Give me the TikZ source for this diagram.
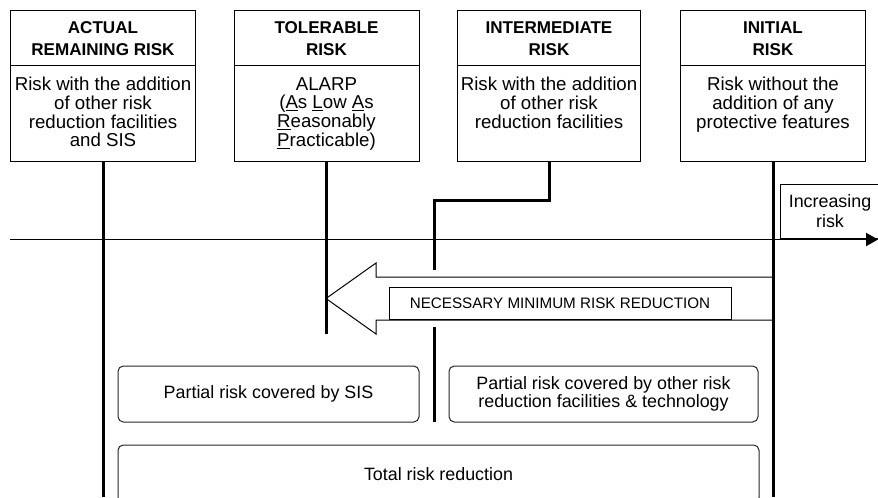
\documentclass[tikz,border=0pt]{standalone}
\usepackage{fontspec}
\setmainfont{Liberation Sans}
\usetikzlibrary{arrows.meta, positioning, shadows}

\tikzset{
  riskbox/.style={draw, line width=0.75pt, minimum width=138.75pt,
                  minimum height=113.25pt, anchor=north, inner sep=0pt},
  headtext/.style={align=center, inner sep=0pt,
                   font=\fontsize{12.8}{16.5}\selectfont\bfseries},
  bodytext/.style={align=center, anchor=north, inner sep=0pt,
                   font=\fontsize{14}{14}\selectfont},
  riskline/.style={line width=2.25pt},
  partbox/.style={draw=black!85, line width=0.75pt, rounded corners=4pt,
                  align=center, inner sep=0pt, minimum height=42pt,
                  font=\fontsize{13.4}{14}\selectfont},
}

\begin{document}
\begin{tikzpicture}[x=0.75pt, y=-0.75pt, >=Stealth]
  \useasboundingbox (0,0) rectangle (878,497);
  \clip (0,0) rectangle (878,497);

  % risk axis
  \coordinate (axisStart) at (10,239.5);
  \coordinate (axisEnd) at (878,239.5);
  \draw[line width=0.75pt, -{Triangle[length=9pt, width=10pt]}] (axisStart) -- (axisEnd);

  % the four risk levels
  \node[riskbox] (actual) at (103,10) {};
  \node[riskbox] (tol) at (326.5,10) {};
  \node[riskbox, minimum width=137.25pt] (inter) at (549,10) {};
  \node[riskbox] (init) at (773,10) {};

  \foreach \b in {actual, tol, inter, init}
    \draw[line width=0.75pt] ([yshift=-41.25pt]\b.north west) -- ([yshift=-41.25pt]\b.north east);

  \node[headtext] (actualHead) at (103,38.5) {ACTUAL\\REMAINING RISK};
  \node[headtext] (tolHead) at (326.5,38.5) {TOLERABLE\\RISK};
  \node[headtext] (interHead) at (549,38.5) {INTERMEDIATE\\RISK};
  \node[headtext] (initHead) at (773,38.5) {INITIAL\\RISK};

  \node[bodytext] (actualBody) at (103,77)
    {Risk with the addition\\of other risk\\reduction facilities\\and SIS};
  \node[bodytext] (tolBody) at (326.5,77)
    {ALARP\\(\underline{A}s \underline{L}ow \underline{A}s\\\underline{R}easonably\\\underline{P}racticable)};
  \node[bodytext] (interBody) at (549,77)
    {Risk with the addition\\of other risk\\reduction facilities};
  \node[bodytext] (initBody) at (773,77)
    {Risk without the\\addition of any\\protective features};

  \node[draw, line width=0.75pt, minimum width=75pt, minimum height=40.5pt, inner sep=0pt,
        align=center, font=\fontsize{13.4}{15}\selectfont] (incr) at (830,211) {Increasing\\risk};

  % necessary minimum risk reduction
  \coordinate (tolEnd) at (326.5,334);
  \draw[line width=0.75pt, fill=white] (326,298.5) -- (376,263) -- (376,277) -- (773,277)
    -- (773,320) -- (376,320) -- (376,334) -- cycle;
  \node[draw, fill=white, line width=0.75pt, minimum width=256.5pt, minimum height=24pt,
        inner sep=0pt, font=\fontsize{11.4}{13}\selectfont,
        drop shadow={shadow xshift=1pt, shadow yshift=-1pt, fill=black, opacity=1}]
    (necessary) at (560,303) {NECESSARY MINIMUM RISK REDUCTION};

  % vertical risk lines
  \coordinate (actualEnd) at (103,497);
  \coordinate (initEnd) at (773,497);
  \coordinate (interBend) at (434,200);
  \coordinate (interTop) at (434,270);
  \coordinate (interMid) at (434,327);
  \coordinate (interEnd) at (434,422);
  \draw[riskline] (actual.south) -- (actualEnd);
  \draw[riskline] (tol.south) -- (tolEnd);
  \draw[riskline] (inter.south) |- (interBend) -- (interTop);
  \draw[riskline] (interMid) -- (interEnd);
  \draw[riskline] (init.south) -- (initEnd);

  % partial and total reduction
  \node[partbox, minimum width=225.75pt] (sisPart) at (268.5,394) {Partial risk covered by SIS};
  \node[partbox, minimum width=231.75pt] (otherPart) at (603.5,394)
    {Partial risk covered by other risk\\reduction facilities \& technology};
  \node[partbox, minimum width=480.75pt, minimum height=43.5pt] (total) at (438.5,474)
    {Total risk reduction};
\end{tikzpicture}
\end{document}
